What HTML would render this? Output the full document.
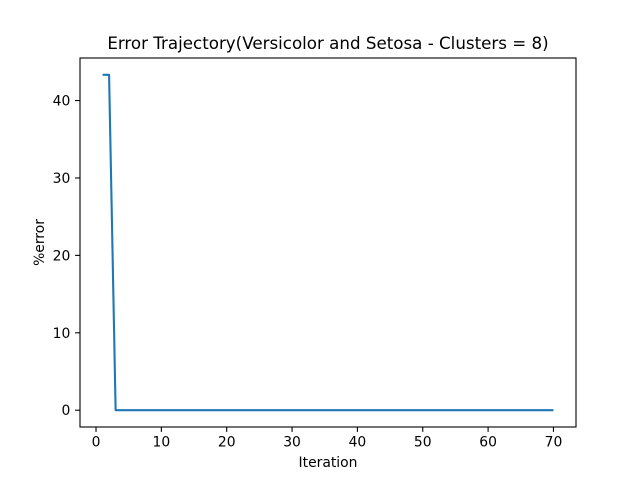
<!DOCTYPE html>
<html>
<head>
<meta charset="utf-8">
<style>
html,body{margin:0;padding:0;background:#fff;}
svg{display:block;font-family:"DejaVu Sans","Liberation Sans",sans-serif;}
</style>
</head>
<body>
<svg id="chart" width="640" height="480" viewBox="0 0 640 480">
<rect x="0" y="0" width="640" height="480" fill="#fff"/>
<text x="328" y="49" text-anchor="middle" font-size="16.7" fill="#000">Error Trajectory(Versicolor and Setosa - Clusters = 8)</text>
<g id="xticks"></g>
<g id="yticks"></g>
<g id="series"></g>
<rect x="80" y="58" width="496" height="369" fill="none" stroke="#000" stroke-width="1.1"/>
<text x="328" y="467" text-anchor="middle" font-size="13.9" fill="#000">Iteration</text>
<text x="44" y="242.5" text-anchor="middle" font-size="13.9" fill="#000" transform="rotate(-90 44 242.5)">%error</text>
</svg>
<script>
const iterations = [1,2,3,4,5,6,7,8,9,10,11,12,13,14,15,16,17,18,19,20,21,22,23,24,25,26,27,28,29,30,31,32,33,34,35,36,37,38,39,40,41,42,43,44,45,46,47,48,49,50,51,52,53,54,55,56,57,58,59,60,61,62,63,64,65,66,67,68,69,70];
const errorValues = [43.33,43.33,0,0,0,0,0,0,0,0,0,0,0,0,0,0,0,0,0,0,0,0,0,0,0,0,0,0,0,0,0,0,0,0,0,0,0,0,0,0,0,0,0,0,0,0,0,0,0,0,0,0,0,0,0,0,0,0,0,0,0,0,0,0,0,0,0,0,0,0];
const xTickValues = [0,10,20,30,40,50,60,70];
const yTickValues = [0,10,20,30,40];

const NS = "http://www.w3.org/2000/svg";
const L = 80, R = 576, T = 58, B = 427;
const xMinD = Math.min(...iterations), xMaxD = Math.max(...iterations);
const yMinD = Math.min(...errorValues), yMaxD = Math.max(...errorValues);
const xPad = (xMaxD - xMinD) * 0.05, yPad = (yMaxD - yMinD) * 0.05;
const x0 = xMinD - xPad, x1 = xMaxD + xPad, y0 = yMinD - yPad, y1 = yMaxD + yPad;
function sx(v){ return L + (v - x0) / (x1 - x0) * (R - L); }
function sy(v){ return B - (v - y0) / (y1 - y0) * (B - T); }

const xg = document.getElementById('xticks');
xTickValues.forEach(v => {
  const x = sx(v);
  const ln = document.createElementNS(NS, 'line');
  ln.setAttribute('x1', x); ln.setAttribute('x2', x);
  ln.setAttribute('y1', B); ln.setAttribute('y2', B + 4.9);
  ln.setAttribute('stroke', '#000'); ln.setAttribute('stroke-width', '1.1');
  
  
  xg.appendChild(ln);
  const t = document.createElementNS(NS, 'text');
  t.setAttribute('x', x); t.setAttribute('y', B + 19.5);
  t.setAttribute('text-anchor', 'middle'); t.setAttribute('font-size', '13.9');
  t.textContent = v;
  
  
  xg.appendChild(t);
});

const yg = document.getElementById('yticks');
yTickValues.forEach(v => {
  const y = sy(v);
  const ln = document.createElementNS(NS, 'line');
  ln.setAttribute('x1', L - 4.9); ln.setAttribute('x2', L);
  ln.setAttribute('y1', y); ln.setAttribute('y2', y);
  ln.setAttribute('stroke', '#000'); ln.setAttribute('stroke-width', '1.1');
  
  
  yg.appendChild(ln);
  const t = document.createElementNS(NS, 'text');
  t.setAttribute('x', L - 9.7); t.setAttribute('y', y + 5);
  t.setAttribute('text-anchor', 'end'); t.setAttribute('font-size', '13.9');
  t.textContent = v;
  
  
  yg.appendChild(t);
});

const sg = document.getElementById('series');
const pl = document.createElementNS(NS, 'polyline');
pl.setAttribute('points', iterations.map((v, i) => sx(v) + ',' + sy(errorValues[i])).join(' '));
pl.setAttribute('fill', 'none');
pl.setAttribute('stroke', '#1f77b4');
pl.setAttribute('stroke-width', '2.1');
pl.setAttribute('stroke-linejoin', 'round');


sg.appendChild(pl);
</script>
</body>
</html>
